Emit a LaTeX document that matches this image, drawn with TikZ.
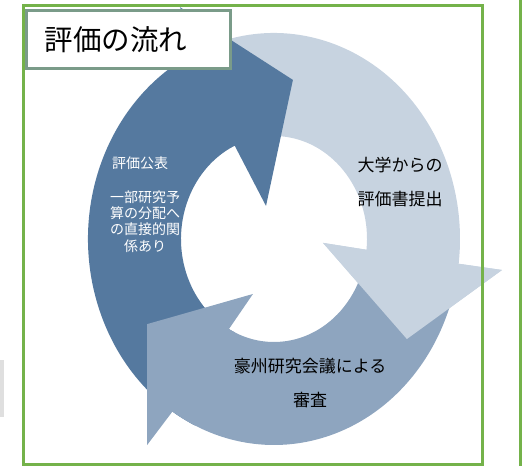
\documentclass[tikz,border=0pt]{standalone}
\usepackage{fontspec}
\newfontfamily\jpfont{Noto Sans CJK JP}

\begin{document}
\begin{tikzpicture}[x=1pt,y=1pt]
\definecolor{ArrowLight}{RGB}{199,211,224}
\definecolor{ArrowMid}{RGB}{142,165,191}
\definecolor{ArrowDark}{RGB}{85,121,159}
\definecolor{FrameGreen}{RGB}{116,178,74}
\definecolor{TitleEdge}{RGB}{122,155,137}
\tikzset{LabelBlack/.style={font=\jpfont\fontsize{17}{34}\selectfont, align=center, text=black, inner sep=0pt}}
\tikzset{LabelWhite/.style={font=\jpfont\fontsize{14}{16.3}\selectfont, align=center, text=white, inner sep=0pt}}
\tikzset{TitleBox/.style={draw=TitleEdge, line width=3pt, fill=white, minimum width=204pt, minimum height=58pt, text width=168pt, inner xsep=18pt, align=left, font=\jpfont\fontsize{28.5}{30}\selectfont}}
\useasboundingbox (0,0) rectangle (522,466);
\fill[gray!25] (0,49) rectangle (4,106);
\begin{scope}[shift={(274,227)}, xscale=186, yscale=206]
\fill[ArrowLight] (118:1) arc[start angle=118, end angle=-6.9, radius=1] -- (-7:1.235) -- (-34.2:0.864) -- (-4.1:0.264) -- (-6:0.5) arc[start angle=-6, end angle=118, radius=0.5] -- cycle;
\fill[ArrowDark] (245:1) arc[start angle=245, end angle=114.5, radius=1] -- (114.2:1.234) -- (82.5:0.779) -- (105:0.166) -- (115:0.5) arc[start angle=115, end angle=245, radius=0.5] -- cycle;
\fill[ArrowMid] (348:1) arc[start angle=348, end angle=236.9, radius=1] -- (235.7:1.211) -- (211.2:0.798) -- (247:0.29) -- (241:0.5) arc[start angle=241, end angle=348, radius=0.5] -- cycle;
\fill[ArrowLight] (-6.9:1) -- (-7:1.235) -- (-34.2:0.864) -- (-4.1:0.264) -- (-6:0.5) -- cycle;
\end{scope}
\node[LabelBlack] (submit) at (400,283.5) {大学からの\\評価書提出};
\node[LabelBlack] (review) at (310,83.5) {豪州研究会議による\\審査};
\node[LabelWhite] (publish) at (140,303) {評価公表};
\node[LabelWhite] (budget) at (145,244.5) {一部研究予\\算の分配へ\\の直接的関\\係あり};
\draw[FrameGreen, line width=3pt] (23,2) rectangle (482,460);
\draw[FrameGreen, line width=3pt] (520,0) -- (520,466);
\node[TitleBox] (title) at (128.5,426.5) {評価の流れ};
\end{tikzpicture}
\end{document}
